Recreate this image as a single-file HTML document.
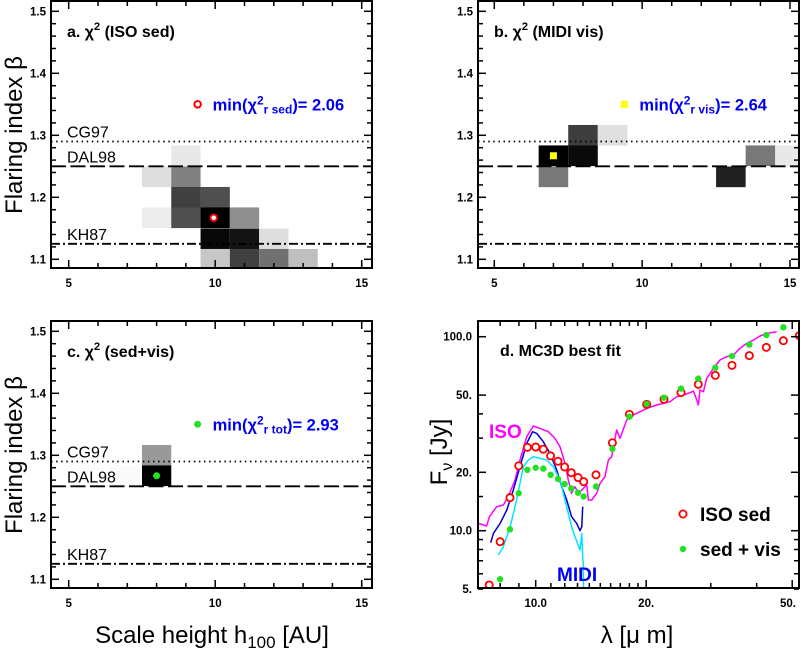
<!DOCTYPE html>
<html><head><meta charset="utf-8"><style>
html,body{margin:0;padding:0;background:#fff;}
svg{display:block;font-family:"Liberation Sans",Arial,sans-serif;}
</style></head><body>
<svg id="fig" width="801" height="651" viewBox="0 0 801 651" xmlns="http://www.w3.org/2000/svg">
<defs>
<clipPath id="clipA"><rect x="51" y="1" width="321" height="267"/></clipPath>
<clipPath id="clipB"><rect x="478" y="1" width="321" height="267"/></clipPath>
<clipPath id="clipC"><rect x="51" y="321" width="321" height="267"/></clipPath>
<clipPath id="clipD"><rect x="478" y="321" width="321" height="267"/></clipPath>
</defs>
</svg>
<script>
// ---- heat map data (h100 [AU], beta, grey level 0=black 1=white) ----
const cellsA_h = [9, 8, 9, 9, 10, 8, 9, 10, 11, 10, 11, 12, 10, 11, 12, 13];
const cellsA_beta = [1.267, 1.233, 1.233, 1.2, 1.2, 1.167, 1.167, 1.167, 1.167, 1.133, 1.133, 1.133, 1.1, 1.1, 1.1, 1.1];
const cellsA_grey = [0.91, 0.87, 0.5, 0.25, 0.31, 0.93, 0.31, 0.0, 0.56, 0.03, 0.08, 0.87, 0.78, 0.25, 0.44, 0.75];
const cellsB_h = [8, 9, 7, 8, 14, 15, 7, 13];
const cellsB_beta = [1.3, 1.3, 1.267, 1.267, 1.267, 1.267, 1.233, 1.233];
const cellsB_grey = [0.24, 0.88, 0.0, 0.04, 0.47, 0.91, 0.47, 0.13];
const cellsC_h = [8, 8, 7];
const cellsC_beta = [1.3, 1.267, 1.267];
const cellsC_grey = [0.6, 0.0, 0.98];
const minA = [9.95, 1.167];
const minB = [7, 1.267];
const minC = [8, 1.267];
const refBeta = [1.29, 1.25, 1.125];
const refNames = ["CG97", "DAL98", "KH87"];
const xTickLabels = [5, 10, 15];
const yTickLabels = [1.1, 1.2, 1.3, 1.4, 1.5];

// ---- SED data (lambda [micron], flux [Jy]) ----
const isoSedLam = [7.47, 8.0, 8.51, 8.99, 9.49, 10.0, 10.49, 10.98, 11.5, 11.99, 12.5, 13.04, 13.51, 14.6, 16.18, 18.0, 20.06, 22.37, 24.89, 27.74, 30.86, 34.26, 38.2, 42.5, 47.3, 52.3];
const isoSedFlux = [5.25, 8.78, 14.8, 21.6, 26.9, 27.0, 26.3, 24.3, 22.8, 21.3, 19.9, 18.8, 17.9, 19.4, 28.4, 39.8, 44.8, 47.6, 51.5, 56.8, 63.2, 71.2, 79.9, 88.1, 95.4, 101.2];
const sedVisLam = [8.0, 8.51, 8.99, 9.49, 10.0, 10.49, 10.98, 11.5, 11.99, 12.5, 13.04, 13.51, 14.6, 16.18, 18.0, 20.06, 22.37, 24.89, 27.74, 30.86, 34.26, 38.2, 42.5, 47.3];
const sedVisFlux = [5.62, 10.16, 15.6, 20.6, 21.1, 20.9, 19.4, 18.5, 17.4, 16.5, 15.7, 15.0, 16.9, 26.4, 38.7, 45.0, 48.5, 54.0, 60.8, 69.2, 79.5, 91.0, 102.0, 111.8];
const isoLam = [6.98, 7.35, 7.48, 7.83, 8.16, 8.42, 8.78, 9.06, 9.45, 9.85, 10.27, 10.83, 11.29, 11.65, 12.02, 12.27, 12.53, 12.8, 13.07, 13.49, 13.77, 13.92, 14.21, 14.66, 14.97, 15.45, 15.78, 16.11, 16.62, 16.97, 17.7, 18.45, 19.25, 20.07, 21.37, 22.28, 23.23, 24.23, 25.26, 26.34, 26.9, 27.47, 27.76, 28.04, 28.64, 29.24, 30.49, 31.79, 33.15, 34.56, 36.04, 37.58, 39.18, 40.86, 42.6, 45.36];
const isoFlux = [10.9, 10.57, 11.81, 13.3, 13.56, 14.97, 18.25, 23.13, 30.51, 34.63, 33.69, 32.37, 29.92, 27.1, 22.24, 18.25, 15.58, 16.86, 15.58, 16.53, 17.2, 14.39, 14.39, 15.58, 17.54, 18.98, 23.13, 24.07, 33.03, 29.92, 37.19, 39.48, 41.07, 42.72, 44.45, 45.33, 46.22, 49.07, 50.06, 51.46, 52.48, 47.15, 44.45, 53.11, 52.07, 61.0, 68.68, 75.8, 78.87, 80.45, 87.1, 92.4, 96.1, 100.8, 104.0, 106.1];
const midiModelLam = [7.54, 7.67, 8.0, 8.34, 8.69, 9.06, 9.45, 9.81, 10.06, 10.49, 10.94, 11.41, 11.77, 12.15, 12.53, 12.93, 13.2, 13.35, 13.43];
const midiModelFlux = [8.67, 9.69, 10.9, 12.78, 16.2, 21.38, 28.2, 32.37, 31.75, 28.77, 25.04, 20.55, 16.86, 14.39, 11.81, 10.9, 10.0, 10.49, 13.3];
const midiLam = [7.91, 8.16, 8.52, 8.87, 9.26, 9.55, 9.85, 10.27, 10.71, 11.17, 11.65, 12.15, 12.53, 12.8, 13.2, 13.35, 13.43, 13.49, 13.5];
const midiFlux = [7.49, 8.27, 10.49, 14.39, 21.38, 23.13, 24.07, 23.6, 23.13, 21.38, 18.25, 13.3, 10.49, 9.31, 7.95, 9.69, 7.34, 6.52, 4.9];
const fluxTickLabels = ["5.", "10.0", "20.", "50.", "100.0"];
const fluxTickValues = [5, 10, 20, 50, 100];
const lamTickLabels = ["10.0", "20.", "50."];
const lamTickValues = [10, 20, 50];

const NS = "http://www.w3.org/2000/svg";
const svg = document.getElementById("fig");
function mk(tag, attrs, parent) {
  const e = document.createElementNS(NS, tag);
  for (const k in attrs) e.setAttribute(k, attrs[k]);
  (parent || svg).appendChild(e);
  return e;
}
function greyHex(g) {
  const v = Math.round(g * 255).toString(16).padStart(2, "0");
  return "#" + v + v + v;
}

const panels = [
  {key: "a", x0: 51, x1: 372, y0: 1, y1: 268, h5: 68.7, hs: 29.3, dy: 0, clip: "clipA",
   H: cellsA_h, B: cellsA_beta, G: cellsA_grey, min: minA, title: "a. ", tsuf: " (ISO sed)", msub: "r sed", mval: "= 2.06", marker: "ring", labels: true},
  {key: "b", x0: 478, x1: 799, y0: 1, y1: 268, h5: 494.3, hs: 29.57, dy: 0, clip: "clipB",
   H: cellsB_h, B: cellsB_beta, G: cellsB_grey, min: minB, title: "b. ", tsuf: " (MIDI vis)", msub: "r vis", mval: "= 2.64", marker: "square", labels: false},
  {key: "c", x0: 51, x1: 372, y0: 321, y1: 588, h5: 68.7, hs: 29.3, dy: 320, clip: "clipC",
   H: cellsC_h, B: cellsC_beta, G: cellsC_grey, min: minC, title: "c. ", tsuf: " (sed+vis)", msub: "r tot", mval: "= 2.93", marker: "dot", labels: true}
];

function drawMarker(type, x, y, name) {
  let m;
  if (type === "ring") m = mk("circle", {cx: x, cy: y, r: 3.3, fill: "#fff", stroke: "#f00", "stroke-width": 2});
  else if (type === "square") m = mk("rect", {x: x - 3.5, y: y - 3.5, width: 7, height: 7, fill: "#ff0"});
  else m = mk("circle", {cx: x, cy: y, r: 3.5, fill: "#22e022"});
  
  
}

panels.forEach(p => {
  const hx = h => p.h5 + (h - 5) * p.hs;
  const by = b => 259.3 + p.dy - (b - 1.1) * 620;
  const g = mk("g", {"clip-path": "url(#" + p.clip + ")"});
  
  
  for (let i = 0; i < p.H.length; i++) {
    const xa = hx(p.H[i] - 0.5), xb = hx(p.H[i] + 0.5);
    const ya = by(p.B[i] + 1 / 60), yb = by(p.B[i] - 1 / 60);
    const r = mk("rect", {x: xa, y: ya, width: xb - xa, height: yb - ya, fill: greyHex(p.G[i])}, g);
    
    
  }
  const dashes = ["1.5,3.6", "15,4.5", "9,3,2,3"];
  refBeta.forEach((b, i) => {
    const l = mk("line", {x1: p.x0, x2: p.x1, y1: by(b), y2: by(b), stroke: "#000", "stroke-width": 1.8, "stroke-dasharray": dashes[i]}, g);
    
    
    if (p.labels) {
      const t = mk("text", {x: 67, y: by(b) - 4, "font-size": 16, fill: "#000"});
      t.textContent = refNames[i];
      
      
    }
  });
  drawMarker(p.marker, hx(p.min[0]), by(p.min[1]), 'min-chi2-marker');
  drawMarker(p.marker, hx(9.4), by(1.35), 'legend-marker');
  const lt = mk("text", {x: hx(9.4) + 15, y: by(1.35) + 6, "font-size": 16.5, "font-weight": "bold", fill: "#0000f0"});
  lt.innerHTML = 'min(χ<tspan dy="-6" font-size="12">2</tspan><tspan dy="9" font-size="12">' + p.msub + '</tspan><tspan dy="-3">)' + p.mval + '</tspan>';
  
  
  const tt = mk("text", {x: p.x0 + 16, y: p.y0 + 36, "font-size": 16, "font-weight": "bold", fill: "#000"});
  tt.innerHTML = p.title + 'χ<tspan dy="-7" font-size="11">2</tspan><tspan dy="7">' + p.tsuf + '</tspan>';
  
  
  const tg = mk("g", {stroke: "#000", "stroke-width": 1.5});
  
  
  for (let k = 0; k <= 20; k++) {
    const b = 1.1 + k * 0.02, y = by(b), len = (k % 5 === 0) ? 8 : 5;
    mk("line", {x1: p.x0, x2: p.x0 + len, y1: y, y2: y}, tg);
    mk("line", {x1: p.x1, x2: p.x1 - len, y1: y, y2: y}, tg);
  }
  for (let h = 5; h <= 15; h++) {
    const x = hx(h), len = (h % 5 === 0) ? 8 : 5;
    mk("line", {x1: x, x2: x, y1: p.y1, y2: p.y1 - len}, tg);
    mk("line", {x1: x, x2: x, y1: p.y0, y2: p.y0 + len}, tg);
  }
  yTickLabels.forEach(v => {
    const t = mk("text", {x: p.x0 - 5, y: by(v) + 4, "font-size": 11.5, "font-weight": "bold", "text-anchor": "end"});
    t.textContent = v.toFixed(1);
    
    
  });
  xTickLabels.forEach(v => {
    const t = mk("text", {x: hx(v), y: p.y1 + 19, "font-size": 11.5, "font-weight": "bold", "text-anchor": "middle"});
    t.textContent = v;
    
    
  });
  const fr = mk("rect", {x: p.x0, y: p.y0, width: p.x1 - p.x0, height: p.y1 - p.y0, fill: "none", stroke: "#000", "stroke-width": 2});
  
  
});

// ---- panel d ----
const lx = l => 535.7 + 367 * Math.log10(l / 10);
const ly = f => 530.7 - 194 * Math.log10(f / 10);
const gd = mk("g", {"clip-path": "url(#clipD)"});


function poly(L, F, color, name) {
  const pts = L.map((l, i) => lx(l).toFixed(1) + "," + ly(F[i]).toFixed(1)).join(" ");
  const e = mk("polyline", {points: pts, fill: "none", stroke: color, "stroke-width": 1.5, "stroke-linejoin": "round"}, gd);
  
  
}
poly(isoLam, isoFlux, "#ff00ff", "iso-spectrum-line");
poly(midiModelLam, midiModelFlux, "#0000d0", "midi-model-line");
poly(midiLam, midiFlux, "#00e5ff", "midi-spectrum-line");
isoSedLam.forEach((l, i) => {
  const c = mk("circle", {cx: lx(l), cy: ly(isoSedFlux[i]), r: 3.6, fill: "#fff", stroke: "#f00", "stroke-width": 1.8}, gd);
  
  
});
sedVisLam.forEach((l, i) => {
  const c = mk("circle", {cx: lx(l), cy: ly(sedVisFlux[i]), r: 3.2, fill: "#22e022"}, gd);
  
  
});
const tgd = mk("g", {stroke: "#000", "stroke-width": 1.5});


[5, 6, 7, 8, 9, 10, 15, 20, 30, 40, 50, 100].forEach(f => {
  const y = ly(f), len = [10, 100, 20, 50].includes(f) ? 8 : 5;
  mk("line", {x1: 478, x2: 478 + len, y1: y, y2: y}, tgd);
  mk("line", {x1: 799, x2: 799 - len, y1: y, y2: y}, tgd);
});
[8, 9, 10, 11, 12, 13, 14, 15, 16, 17, 18, 19, 20, 30, 40, 50].forEach(l => {
  const x = lx(l), len = [10, 20, 50].includes(l) ? 8 : 5;
  mk("line", {x1: x, x2: x, y1: 588, y2: 588 - len}, tgd);
  mk("line", {x1: x, x2: x, y1: 321, y2: 321 + len}, tgd);
});
fluxTickLabels.forEach((s, i) => {
  const t = mk("text", {x: 472, y: ly(fluxTickValues[i]) + 4, "font-size": 11.5, "font-weight": "bold", "text-anchor": "end"});
  t.textContent = s;
  
  
});
lamTickLabels.forEach((s, i) => {
  const t = mk("text", {x: Math.min(lx(lamTickValues[i]), 788), y: 607, "font-size": 11.5, "font-weight": "bold", "text-anchor": "middle"});
  t.textContent = s;
  
  
});
const frd = mk("rect", {x: 478, y: 321, width: 321, height: 267, fill: "none", stroke: "#000", "stroke-width": 2});


</script>
<script>
(function(){
const NS = "http://www.w3.org/2000/svg";
const svg = document.getElementById("fig");
function txt(x, y, s, attrs, name) {
  const t = document.createElementNS(NS, "text");
  t.setAttribute("x", x); t.setAttribute("y", y);
  for (const k in attrs) t.setAttribute(k, attrs[k]);
  t.innerHTML = s;
  
  
  svg.appendChild(t);
  return t;
}
txt(500, 356, "d. MC3D best fit", {"font-size": 16, "font-weight": "bold"}, "panel-title-d");
txt(489, 438, "ISO", {"font-size": 19, "font-weight": "bold", fill: "#ff00ff"}, "iso-label");
txt(557, 581, "MIDI", {"font-size": 19, "font-weight": "bold", fill: "#0000f0"}, "midi-label");
const c = document.createElementNS(NS, "circle");
c.setAttribute("cx", 683); c.setAttribute("cy", 514); c.setAttribute("r", 3.6);
c.setAttribute("fill", "#fff"); c.setAttribute("stroke", "#f00"); c.setAttribute("stroke-width", 1.8);


svg.appendChild(c);
const d = document.createElementNS(NS, "circle");
d.setAttribute("cx", 683); d.setAttribute("cy", 549); d.setAttribute("r", 3.2); d.setAttribute("fill", "#22e022");


svg.appendChild(d);
txt(700, 521, "ISO sed", {"font-size": 19, "font-weight": "bold"}, "legend-iso-sed");
txt(700, 556, "sed + vis", {"font-size": 19, "font-weight": "bold"}, "legend-sed-vis");
txt(0, 0, "Flaring index β", {"font-size": 24, "text-anchor": "middle", transform: "translate(22,135) rotate(-90)"}, "y-axis-title-a");
txt(0, 0, "Flaring index β", {"font-size": 24, "text-anchor": "middle", transform: "translate(22,455) rotate(-90)"}, "y-axis-title-c");
txt(0, 0, 'F<tspan font-size="16" dy="5">ν</tspan><tspan dy="-5"> [Jy]</tspan>', {"font-size": 24, "text-anchor": "middle", transform: "translate(447,452) rotate(-90)"}, "y-axis-title-d");
txt(212, 643, 'Scale height h<tspan font-size="17" dy="5">100</tspan><tspan dy="-5"> [AU]</tspan>', {"font-size": 24, "text-anchor": "middle"}, "x-axis-title");
txt(637, 643, "λ [μ m]", {"font-size": 24, "text-anchor": "middle"}, "lambda-axis-title");
})();
</script>
</body></html>
